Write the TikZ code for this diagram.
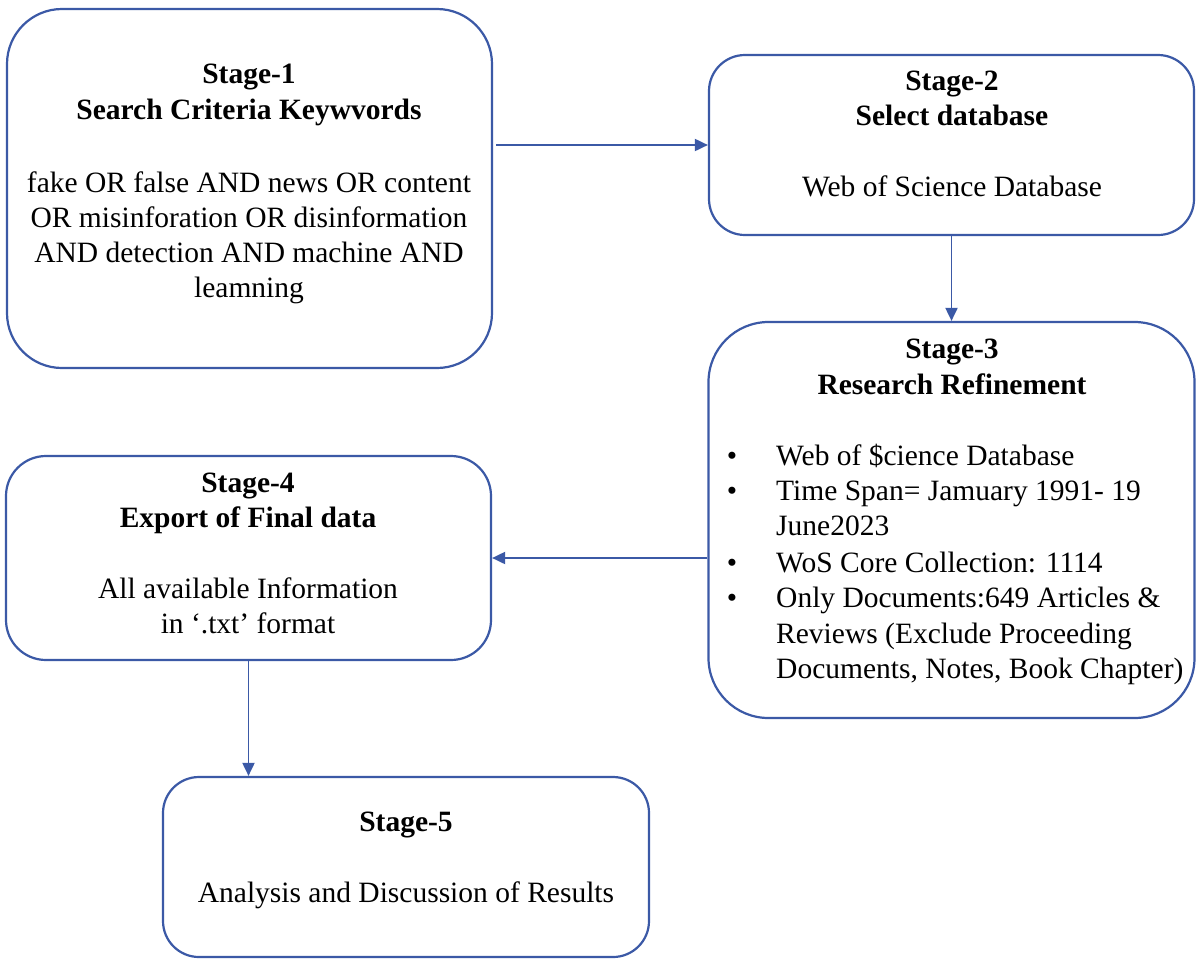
\documentclass[tikz,border=0pt]{standalone}
\usepackage{fontspec}
\setmainfont{Liberation Serif}
\usetikzlibrary{arrows.meta}
\definecolor{lineblue}{RGB}{59,89,166}
\begin{document}
\begin{tikzpicture}[x=1pt,y=-1pt,
  stagebox/.style={draw=lineblue,line width=2.2pt,inner sep=0pt,fill=white},
  txt/.style={inner sep=0pt,anchor=base,font=\fontsize{29.5}{35}\selectfont,text=black},
  hd/.style={txt,font=\fontsize{29.5}{35}\selectfont\bfseries},
  bl/.style={txt,anchor=base west},
  conn/.style={draw=lineblue,line width=1.9pt,-{Triangle[length=13pt,width=12pt]}}]
\useasboundingbox (0,0) rectangle (1201,964);
% boxes
\node[stagebox,rounded corners=55pt,minimum width=485pt,minimum height=359pt] (b1) at (249.5,188.5) {};
\node[stagebox,rounded corners=36pt,minimum width=485pt,minimum height=180pt] (b2) at (951.5,145) {};
\node[stagebox,rounded corners=60pt,minimum width=486pt,minimum height=396pt] (b3) at (951.5,520) {};
\node[stagebox,rounded corners=40pt,minimum width=485pt,minimum height=204pt] (b4) at (248.5,558) {};
\node[stagebox,rounded corners=36pt,minimum width=486pt,minimum height=180pt] (b5) at (406,867) {};
% box 1 text
\node[hd] (t1a) at (249,83) {Stage-1};
\node[hd] (t1b) at (249,119) {Search Criteria Keywvords};
\node[txt] (t1c) at (249,192) {fake OR false AND news OR content};
\node[txt] (t1d) at (249,227) {OR misinforation OR disinformation};
\node[txt] (t1e) at (249,262) {AND detection AND machine AND};
\node[txt] (t1f) at (249,297) {leamning};
% box 2 text
\node[hd] (t2a) at (952,90) {Stage-2};
\node[hd] (t2b) at (952,125) {Select database};
\node[txt] (t2c) at (952,196) {Web of Science Database};
% box 3 text
\node[hd] (t3a) at (952,358) {Stage-3};
\node[hd] (t3b) at (952,394) {Research Refinement};
\node[txt] (p1) at (732,465) {\textbullet};
\node[txt] (p2) at (732,500) {\textbullet};
\node[txt] (p3) at (732,572) {\textbullet};
\node[txt] (p4) at (732,607) {\textbullet};
\node[bl] (t3c) at (776,465) {Web of \$cience Database};
\node[bl] (t3d) at (776,500) {Time Span= Jamuary 1991- 19};
\node[bl] (t3e) at (776,535) {June2023};
\node[bl] (t3f) at (776,572) {WoS Core Collection: 1114};
\node[bl] (t3g) at (776,607) {Only Documents:649 Articles \&};
\node[bl] (t3h) at (776,643) {Reviews (Exclude Proceeding};
\node[bl] (t3i) at (776,678) {Documents, Notes, Book Chapter)};
% box 4 text
\node[hd] (t4a) at (248,492) {Stage-4};
\node[hd] (t4b) at (248,527) {Export of Final data};
\node[txt] (t4c) at (248,598) {All available Information};
\node[txt] (t4d) at (248,633) {in ‘.txt’ format};
% box 5 text
\node[hd] (t5a) at (406,831) {Stage-5};
\node[txt] (t5b) at (406,902) {Analysis and Discussion of Results};
% connectors
\draw[conn] ([xshift=3pt]b1.east |- b2.west) -- (b2.west);
\draw[conn] (b2.south) -- (b3.north);
\draw[conn] (b3.west |- b4.east) -- (b4.east);
\draw[conn] (b4.south) -- (b4.south |- b5.north);
\end{tikzpicture}
\end{document}
